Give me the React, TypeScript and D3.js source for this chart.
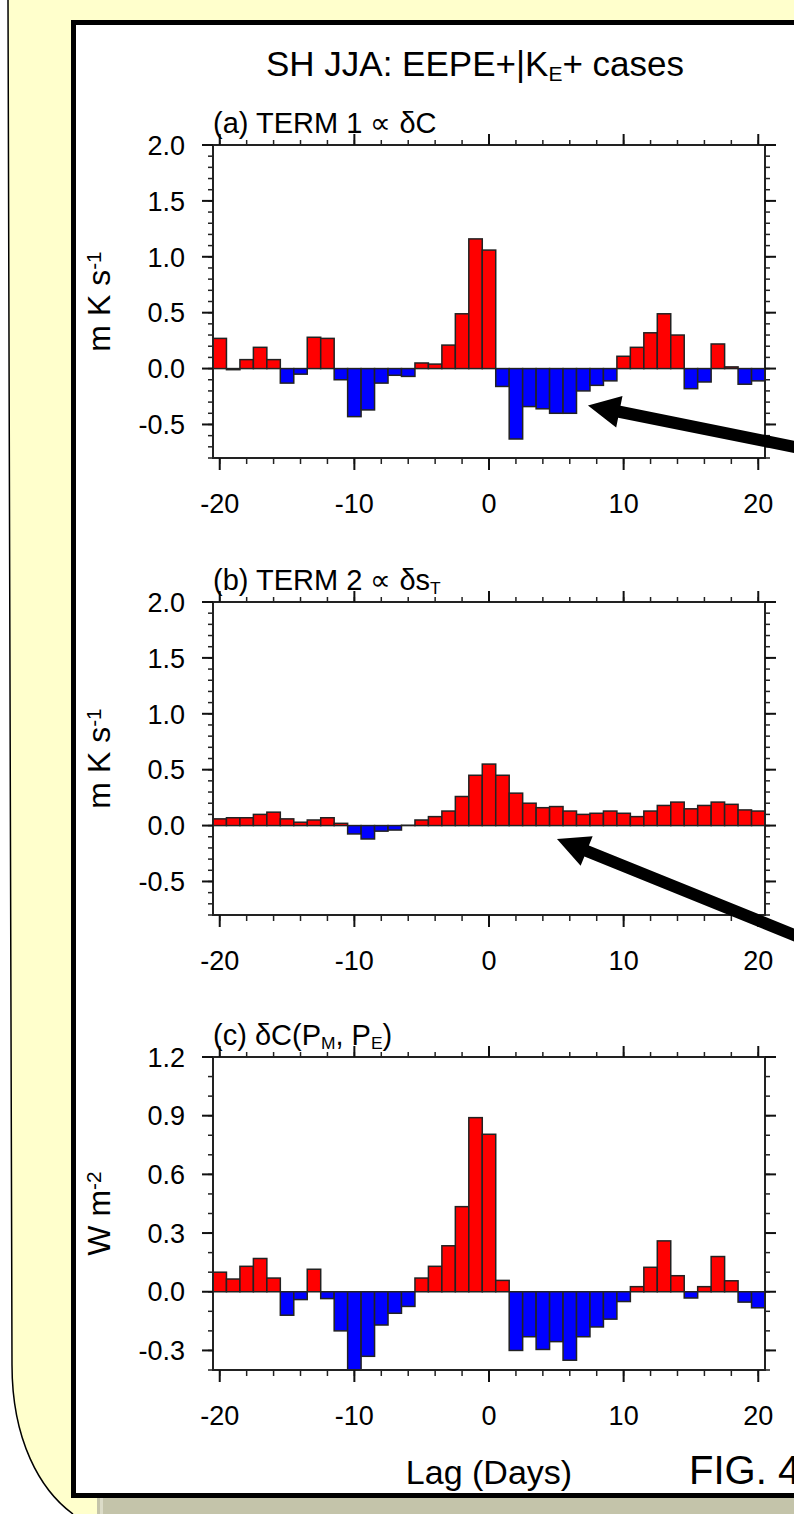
import React from "react";
import * as d3 from "d3";

// lag in days
const lags = [
  -20, -19, -18, -17, -16, -15, -14, -13, -12, -11, -10, -9, -8, -7, -6, -5, -4,
  -3, -2, -1, 0, 1, 2, 3, 4, 5, 6, 7, 8, 9, 10, 11, 12, 13, 14, 15, 16, 17, 18,
  19, 20,
];

// (a) TERM 1, m K s-1
const term1 = [
  0.27, -0.01, 0.08, 0.19, 0.08, -0.13, -0.05, 0.28, 0.27, -0.1, -0.43, -0.37,
  -0.13, -0.06, -0.07, 0.05, 0.04, 0.21, 0.49, 1.16, 1.06, -0.16, -0.63, -0.34,
  -0.36, -0.4, -0.4, -0.2, -0.15, -0.11, 0.11, 0.19, 0.32, 0.49, 0.3, -0.18,
  -0.12, 0.22, 0.015, -0.14, -0.11,
];

// (b) TERM 2, m K s-1
const term2 = [
  0.06, 0.07, 0.07, 0.1, 0.12, 0.06, 0.03, 0.05, 0.07, 0.02, -0.075, -0.12,
  -0.05, -0.04, 0.003, 0.05, 0.08, 0.13, 0.26, 0.45, 0.55, 0.45, 0.29, 0.2,
  0.16, 0.17, 0.13, 0.1, 0.11, 0.13, 0.11, 0.08, 0.13, 0.18, 0.21, 0.15, 0.18,
  0.21, 0.19, 0.14, 0.13,
];

// (c) dC(PM, PE), W m-2
const deltaC = [
  0.1, 0.065, 0.13, 0.17, 0.07, -0.12, -0.04, 0.115, -0.035, -0.2, -0.4, -0.33,
  -0.17, -0.11, -0.075, 0.07, 0.13, 0.235, 0.435, 0.89, 0.805, 0.058, -0.3,
  -0.23, -0.295, -0.255, -0.35, -0.23, -0.18, -0.14, -0.05, 0.026, 0.125, 0.26,
  0.082, -0.032, 0.026, 0.18, 0.056, -0.053, -0.082,
];

const xTicks = [-20, -10, 0, 10, 20];
const xMinorTicks = [-20, -18, -16, -14, -12, -10, -8, -6, -4, -2, 0, 2, 4, 6, 8, 10, 12, 14, 16, 18, 20];
const termTicks = [-0.5, 0, 0.5, 1.0, 1.5, 2.0];
const dcTicks = [-0.3, 0, 0.3, 0.6, 0.9, 1.2];

// arrows (data coords of panels a and b): tip then tail
const arrowA = [[7.35, -0.33], [23.5, -0.72]];
const arrowB = [[5.05, -0.12], [23.5, -1.02]];

const W = 794;
const H = 1514;
const left = 213;
const right = 765;
const plotH = 313;
const font = "'Liberation Sans', Arial, Helvetica, sans-serif";

const x = d3.scaleLinear().domain([-20.5, 20.5]).range([left, right]);

const Arrow = ({ tip, tail, w }) => {
  const dx = tail[0] - tip[0];
  const dy = tail[1] - tip[1];
  const len = Math.hypot(dx, dy);
  const ux = dx / len, uy = dy / len;
  const px = -uy, py = ux;
  const hl = 32, hw = 16;
  const bx = tip[0] + ux * hl, by = tip[1] + uy * hl;
  const pts = [
    [tip[0], tip[1]],
    [bx + px * hw, by + py * hw],
    [bx + px * w / 2, by + py * w / 2],
    [tail[0] + px * w / 2, tail[1] + py * w / 2],
    [tail[0] - px * w / 2, tail[1] - py * w / 2],
    [bx - px * w / 2, by - py * w / 2],
    [bx - px * hw, by - py * hw],
  ];
  return <polygon points={pts.map((p) => p.join(",")).join(" ")} fill="#000" />;
};

const Panel = ({ top, domain, ticks, values, title, ylabel, arrow }) => {
  const y = d3.scaleLinear().domain(domain).range([top + plotH, top]);
  const minor = d3.ticks(domain[0], domain[1], Math.round((domain[1] - domain[0]) * 10));
  const bw = x(1) - x(0);
  const bottom = top + plotH;
  return (
    <g>
      {values.map((v, i) => (
        <rect
          key={i}
          x={x(lags[i] - 0.5)}
          width={bw}
          y={y(Math.max(0, v))}
          height={Math.abs(y(v) - y(0))}
          fill={v >= 0 ? "#ff0000" : "#0000ff"}
          stroke="#222"
          strokeWidth={1.5}
        />
      ))}
      <rect x={left} y={top} width={right - left} height={plotH} fill="none" stroke="#222" strokeWidth={2} />
      {/* y ticks, left and right */}
      {minor.map((t, i) => (
        <g key={"m" + i} stroke="#222" strokeWidth={1.5}>
          <line x1={left - 5} x2={left} y1={y(t)} y2={y(t)} />
          <line x1={right} x2={right + 5} y1={y(t)} y2={y(t)} />
        </g>
      ))}
      {ticks.map((t, i) => (
        <g key={"t" + i}>
          <line x1={left - 11} x2={left} y1={y(t)} y2={y(t)} stroke="#111" strokeWidth={2} />
          <line x1={right} x2={right + 11} y1={y(t)} y2={y(t)} stroke="#111" strokeWidth={2} />
          <text x={left - 28} y={y(t)} dy="0.36em" textAnchor="end" fontSize={27}>
            {t.toFixed(1)}
          </text>
        </g>
      ))}
      {/* x ticks, top and bottom */}
      {xMinorTicks.map((t, i) => (
        <g key={"xm" + i} stroke="#222" strokeWidth={1.5}>
          <line x1={x(t)} x2={x(t)} y1={top - 5} y2={top} />
          <line x1={x(t)} x2={x(t)} y1={bottom} y2={bottom + 6} />
        </g>
      ))}
      {xTicks.map((t, i) => (
        <g key={"xt" + i}>
          <line x1={x(t)} x2={x(t)} y1={top - 11} y2={top} stroke="#111" strokeWidth={2} />
          <line x1={x(t)} x2={x(t)} y1={bottom} y2={bottom + 12} stroke="#111" strokeWidth={2} />
          <text x={x(t)} y={bottom + 55} textAnchor="middle" fontSize={27}>
            {t}
          </text>
        </g>
      ))}
      <text x={left} y={top - 12} fontSize={29}>
        {title}
      </text>
      <text transform={`translate(110,${top + plotH / 2}) rotate(-90)`} textAnchor="middle" fontSize={32}>
        {ylabel}
      </text>
      {arrow && (
        <Arrow
          tip={[x(arrow[0][0]), y(arrow[0][1])]}
          tail={[x(arrow[1][0]), y(arrow[1][1])]}
          w={12}
        />
      )}
    </g>
  );
};

const App = () => {
  return (
    <svg
      width={W}
      height={H}
      style={{ position: "absolute", left: 0, top: 0 }}
      fontFamily={font}
      fill="#000"
    >
      <rect width={W} height={H} fill="#fff" />
      <path
        d={`M8,0 L${W},0 L${W},${H} L73,${H} C40,1490 12,1440 12,1365 Z`}
        fill="#ffffcc"
      />
      <path d={`M8,0 L12,1365 C12,1440 40,1490 73,${H}`} fill="none" stroke="#000" strokeWidth={1.5} />
      <rect x={97} y={1498} width={W - 97} height={H - 1498} fill="#c4c4aa" />
      <line x1={101.5} x2={101.5} y1={1498} y2={H} stroke="#dcdcc8" strokeWidth={3} />
      <rect x={73.5} y={22.5} width={W} height={1473} fill="#fff" stroke="#000" strokeWidth={5} />

      <text x={475} y={76} textAnchor="middle" fontSize={35}>
        SH JJA: EEPE+|K
        <tspan dy="0.25em" fontSize="60%">E</tspan>
        <tspan dy="-0.15em">+ cases</tspan>
      </text>

      <Panel
        top={145}
        domain={[-0.8, 2.0]}
        ticks={termTicks}
        values={term1}
        title={<>(a) TERM 1 {"\u221d"} {"\u03b4"}C</>}
        ylabel={<>m K s<tspan dy="-0.45em" fontSize="65%">-1</tspan></>}
        arrow={arrowA}
      />
      <Panel
        top={602}
        domain={[-0.8, 2.0]}
        ticks={termTicks}
        values={term2}
        title={<>(b) TERM 2 {"\u221d"} {"\u03b4"}s<tspan dy="0.25em" fontSize="60%">T</tspan></>}
        ylabel={<>m K s<tspan dy="-0.45em" fontSize="65%">-1</tspan></>}
        arrow={arrowB}
      />
      <Panel
        top={1057}
        domain={[-0.4, 1.2]}
        ticks={dcTicks}
        values={deltaC}
        title={
          <>
            (c) {"\u03b4"}C(P<tspan dy="0.25em" fontSize="60%">M</tspan>
            <tspan dy="-0.15em">, P</tspan>
            <tspan dy="0.25em" fontSize="60%">E</tspan>
            <tspan dy="-0.15em">)</tspan>
          </>
        }
        ylabel={<>W m<tspan dy="-0.45em" fontSize="65%">-2</tspan></>}
      />

      <text x={489} y={1484} textAnchor="middle" fontSize={34}>
        Lag (Days)
      </text>
      <text x={689} y={1484} fontSize={40}>
        FIG. 4
      </text>
    </svg>
  );
};

export default App;
